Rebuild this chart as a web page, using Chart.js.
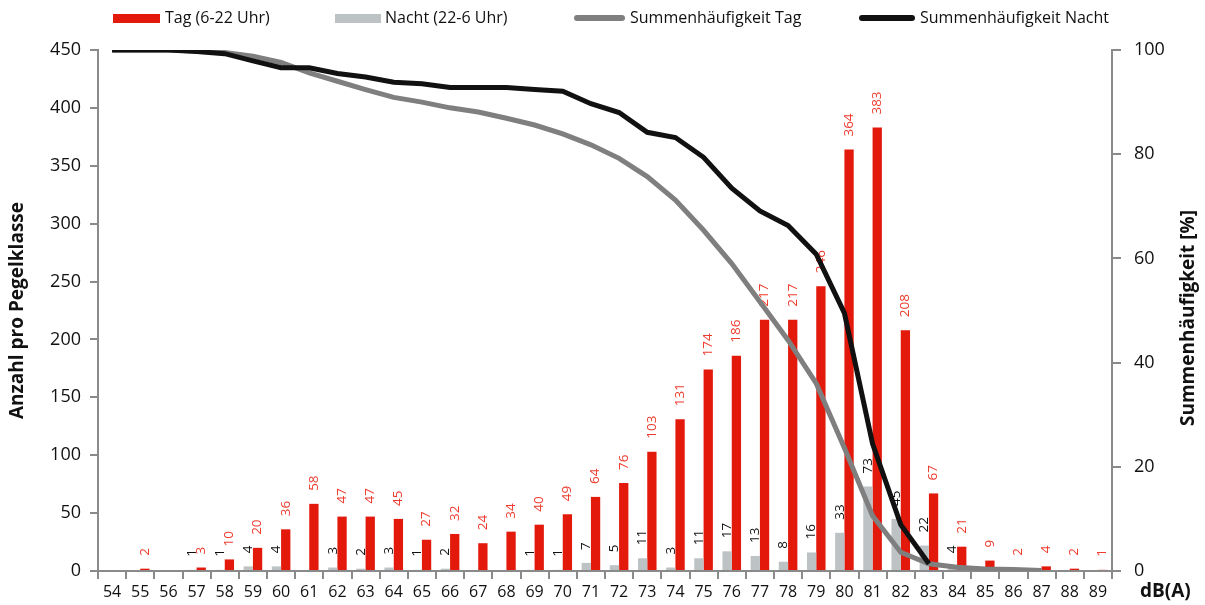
<!DOCTYPE html>
<html lang="de">
<head>
  <meta charset="UTF-8">
  <title>Pegelklassen Tag / Nacht</title>
  <script src="https://cdn.jsdelivr.net/npm/chart.js"></script>
  <style>
    body {
      margin: 0;
      background: #fff;
    }
    #wrap {
      position: relative;
      width: 1205px;
      height: 605px;
    }
  </style>
</head>
<body>

<div id="wrap"><canvas id="pegelChart"></canvas></div>

<script>
  // Pegelklassen in dB(A)
  const klassen = ['54', '55', '56', '57', '58', '59', '60', '61', '62', '63', '64', '65',
                   '66', '67', '68', '69', '70', '71', '72', '73', '74', '75', '76', '77',
                   '78', '79', '80', '81', '82', '83', '84', '85', '86', '87', '88', '89'];

  // Anzahl pro Pegelklasse
  const tag = [0, 2, 0, 3, 10, 20, 36, 58, 47, 47, 45, 27,
               32, 24, 34, 40, 49, 64, 76, 103, 131, 174, 186, 217,
               217, 246, 364, 383, 208, 67, 21, 9, 2, 4, 2, 1];
  const nacht = [0, 0, 0, 1, 1, 4, 4, 0, 3, 2, 3, 1,
                 2, 0, 0, 1, 1, 7, 5, 11, 3, 11, 17, 13,
                 8, 16, 33, 73, 45, 22, 4, 0, 0, 0, 0, 0];

  // Summenhäufigkeit in %
  const summeTag = [100, 100, 100, 99.8, 99.5, 98.8, 97.6, 95.6, 94.0, 92.4, 90.9, 90.0,
                    88.9, 88.1, 86.9, 85.6, 83.9, 81.8, 79.2, 75.7, 71.2, 65.4, 59.0, 51.7,
                    44.3, 36.0, 23.6, 10.6, 3.6, 1.4, 0.7, 0.4, 0.3, 0.1, null, null];
  const summeNacht = [100, 100, 100, 99.7, 99.3, 97.9, 96.6, 96.6, 95.5, 94.8, 93.8, 93.5,
                      92.8, 92.8, 92.8, 92.4, 92.1, 89.7, 88.0, 84.2, 83.2, 79.4, 73.5, 69.1,
                      66.3, 60.8, 49.5, 24.4, 8.9, 1.4, null, null, null, null, null, null];

  const ROT = '#e3190b';
  const GRAU = '#bdc2c4';
  const LINIE_TAG = '#7f7f7f';
  const LINIE_NACHT = '#111111';
  const ACHSE = '#8a8a8a';
  const FONT = '"Open Sans", Arial, sans-serif';

  // Werte senkrecht über die Balken schreiben (vor den Linien)
  const wertLabels = {
    id: 'wertLabels',
    afterDatasetDraw(chart, args) {
      const ds = chart.data.datasets[args.index];
      if (ds.type !== 'bar') return;
      const ctx = chart.ctx;
      ctx.save();
      ctx.font = '13.5px ' + FONT;
      ctx.fillStyle = ds.labelColor;
      ctx.textAlign = 'left';
      ctx.textBaseline = 'middle';
      args.meta.data.forEach((bar, i) => {
        const v = ds.data[i];
        if (!v) return;
        ctx.save();
        ctx.translate(bar.x, bar.y - 13);
        ctx.rotate(-Math.PI / 2);
        ctx.fillText(String(v), 0, 0);
        ctx.restore();
      });
      ctx.restore();
    }
  };

  // Legende, rechter Achsentitel und dB(A)
  const extras = {
    id: 'extras',
    afterDraw(chart) {
      const ctx = chart.ctx;
      const y = 18;
      ctx.save();
      ctx.font = '16px ' + FONT;
      ctx.textBaseline = 'middle';
      ctx.fillStyle = ROT;
      ctx.fillRect(113, y - 4, 47, 9);
      ctx.fillStyle = GRAU;
      ctx.fillRect(335, y - 4, 46, 9);
      ctx.lineCap = 'round';
      ctx.lineWidth = 6;
      ctx.strokeStyle = LINIE_TAG;
      ctx.beginPath(); ctx.moveTo(577, y); ctx.lineTo(622, y); ctx.stroke();
      ctx.strokeStyle = LINIE_NACHT;
      ctx.beginPath(); ctx.moveTo(862, y); ctx.lineTo(912, y); ctx.stroke();
      ctx.fillStyle = '#111';
      ctx.fillText('Tag (6-22 Uhr)', 165, y);
      ctx.fillText('Nacht (22-6 Uhr)', 385, y);
      ctx.fillText('Summenhäufigkeit Tag', 630, y);
      ctx.fillText('Summenhäufigkeit Nacht', 920, y);

      ctx.font = 'bold 19px ' + FONT;
      ctx.fillText('dB(A)', 1140, 592);
      ctx.translate(1189, 318);
      ctx.rotate(-Math.PI / 2);
      ctx.textAlign = 'center';
      ctx.fillText('Summenhäufigkeit [%]', 0, 0);
      ctx.restore();
    }
  };

  const ctx = document.getElementById('pegelChart').getContext('2d');
  new Chart(ctx, {
    data: {
      labels: klassen,
      datasets: [
        {
          type: 'bar',
          label: 'Tag (6-22 Uhr)',
          data: tag,
          backgroundColor: ROT,
          labelColor: '#ee3a2c',
          yAxisID: 'y',
          categoryPercentage: 0.66,
          barPercentage: 1.0,
          order: 3
        },
        {
          type: 'bar',
          label: 'Nacht (22-6 Uhr)',
          data: nacht,
          backgroundColor: GRAU,
          labelColor: '#111',
          yAxisID: 'y',
          categoryPercentage: 0.66,
          barPercentage: 1.0,
          order: 2
        },
        {
          type: 'line',
          label: 'Summenhäufigkeit Tag',
          data: summeTag,
          borderColor: LINIE_TAG,
          borderWidth: 5,
          pointRadius: 0,
          tension: 0,
          yAxisID: 'y1',
          order: 1
        },
        {
          type: 'line',
          label: 'Summenhäufigkeit Nacht',
          data: summeNacht,
          borderColor: LINIE_NACHT,
          borderWidth: 5,
          pointRadius: 0,
          tension: 0,
          yAxisID: 'y1',
          order: 0
        }
      ]
    },
    options: {
      responsive: true,
      maintainAspectRatio: false,
      animation: false,
      layout: { padding: { top: 50, left: 0, right: 0, bottom: 0 } },
      plugins: {
        legend: { display: false },
        tooltip: { enabled: false }
      },
      scales: {
        x: {
          offset: true,
          grid: { offset: true, drawOnChartArea: false, tickLength: 8, color: ACHSE, lineWidth: 2 },
          border: { color: ACHSE, width: 2 },
          ticks: { font: { family: FONT, size: 16 }, color: '#111', padding: 4, maxRotation: 0, autoSkip: false },
          afterFit: s => { s.height = 34; }
        },
        y: {
          position: 'left',
          min: 0,
          max: 450,
          ticks: { stepSize: 50, font: { family: FONT, size: 18 }, color: '#111', padding: 9 },
          grid: { drawOnChartArea: false, tickLength: 8, color: ACHSE, lineWidth: 2 },
          border: { color: ACHSE, width: 2 },
          title: {
            display: true,
            text: 'Anzahl pro Pegelklasse',
            font: { family: FONT, size: 19, weight: 'bold' },
            color: '#111',
            padding: { top: 6, bottom: 0 }
          },
          afterFit: s => { s.width = 98; }
        },
        y1: {
          position: 'right',
          min: 0,
          max: 100,
          ticks: { stepSize: 20, font: { family: FONT, size: 18 }, color: '#111', padding: 13 },
          grid: { drawOnChartArea: false, tickLength: 9, color: ACHSE, lineWidth: 2 },
          border: { color: ACHSE, width: 2 },
          afterFit: s => { s.width = 93; }
        }
      }
    },
    plugins: [wertLabels, extras]
  });
</script>

</body>
</html>
